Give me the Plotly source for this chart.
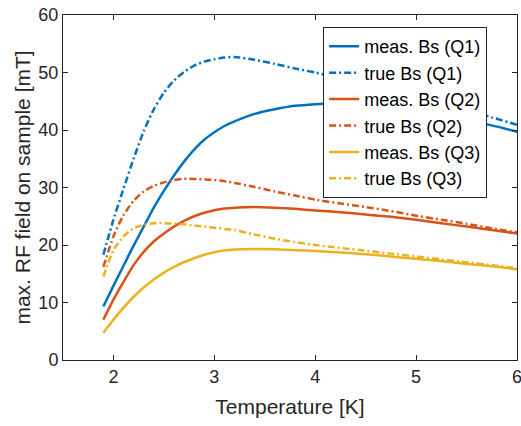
import plotly.graph_objects as go

# Temperature grid [K]
temperature = [1.9, 2.0, 2.1, 2.2, 2.3, 2.4, 2.5, 2.6, 2.7, 2.8, 2.9, 3.0, 3.1, 3.2,
               3.4, 3.6, 3.8, 4.0, 4.25, 4.5, 4.75, 5.0, 5.25, 5.5, 5.75, 6.0]

# Maximum RF field on sample [mT]
meas_q1 = [9.3, 12.9, 16.4, 19.9, 23.2, 26.5, 29.4, 32.1, 34.5, 36.6, 38.3, 39.6, 40.7, 41.5,
           42.8, 43.6, 44.2, 44.5, 44.7, 44.5, 44.0, 43.3, 42.5, 41.7, 40.8, 39.7]
true_q1 = [18.3, 24.4, 29.8, 35.0, 39.8, 43.6, 46.5, 48.6, 50.1, 51.2, 51.9, 52.3, 52.6, 52.7,
           52.2, 51.5, 50.7, 50.0, 49.0, 48.0, 46.9, 45.8, 44.7, 43.5, 42.2, 40.9]
meas_q2 = [7.0, 10.5, 13.6, 16.5, 18.8, 20.6, 22.0, 23.2, 24.2, 25.0, 25.6, 26.05, 26.35, 26.5,
           26.6, 26.5, 26.3, 26.0, 25.7, 25.3, 24.9, 24.4, 23.8, 23.2, 22.6, 22.0]
true_q2 = [16.2, 21.5, 25.2, 27.7, 29.3, 30.3, 30.9, 31.3, 31.5, 31.5, 31.4, 31.3, 31.1, 30.8,
           30.1, 29.3, 28.6, 27.9, 27.2, 26.6, 25.9, 25.1, 24.4, 23.7, 22.9, 22.2]
meas_q3 = [4.75, 7.0, 9.1, 11.0, 12.6, 14.0, 15.2, 16.2, 17.0, 17.7, 18.3, 18.75, 19.05, 19.2,
           19.3, 19.25, 19.1, 18.95, 18.7, 18.4, 18.0, 17.6, 17.2, 16.7, 16.3, 15.8]
true_q3 = [14.5, 19.1, 21.5, 22.9, 23.5, 23.8, 23.8, 23.7, 23.6, 23.4, 23.2, 23.0, 22.8, 22.6,
           21.8, 21.1, 20.5, 20.0, 19.5, 19.0, 18.5, 18.0, 17.5, 17.0, 16.5, 15.95]

series = [
    ("meas. Bs (Q1)", meas_q1, "#0072BD", "solid"),
    ("true Bs (Q1)", true_q1, "#0072BD", "7px,3px,2px,3px"),
    ("meas. Bs (Q2)", meas_q2, "#D95319", "solid"),
    ("true Bs (Q2)", true_q2, "#D95319", "7px,3px,2px,3px"),
    ("meas. Bs (Q3)", meas_q3, "#EDB120", "solid"),
    ("true Bs (Q3)", true_q3, "#EDB120", "7px,3px,2px,3px"),
]

fig = go.Figure()
for name, vals, color, dash in series:
    fig.add_trace(go.Scatter(
        x=temperature, y=vals, name=name, mode="lines",
        line=dict(color=color, width=2.5, dash=dash, shape="spline", smoothing=0.6),
    ))

axis_style = dict(
    showline=True, linecolor="#262626", linewidth=1, mirror="ticks",
    ticks="inside", ticklen=5, tickcolor="#262626", tickwidth=1,
    showgrid=False, zeroline=False, ticklabeloverflow="allow", automargin=False,
    tickfont=dict(size=18, color="#262626"),
)

fig.update_layout(
    width=521, height=426,
    margin=dict(l=63, r=4, t=15, b=66),
    paper_bgcolor="white", plot_bgcolor="white",
    font=dict(family="Liberation Sans, Arial, sans-serif", color="#262626"),
    xaxis=dict(range=[1.5, 6], tickvals=[2, 3, 4, 5, 6],
               title=dict(text="Temperature [K]", font=dict(size=21), standoff=13),
               **axis_style),
    yaxis=dict(range=[0, 60], tickvals=[0, 10, 20, 30, 40, 50, 60],
               title=dict(text="max. RF field on sample [mT]", font=dict(size=21), standoff=2),
               **axis_style),
    legend=dict(
        x=0.573, y=0.965, xanchor="left", yanchor="top",
        bgcolor="white", bordercolor="#262626", borderwidth=1,
        font=dict(size=18, color="#000000"),
        tracegroupgap=0,
    ),
    showlegend=True,
)

fig.write_html("out.html")
